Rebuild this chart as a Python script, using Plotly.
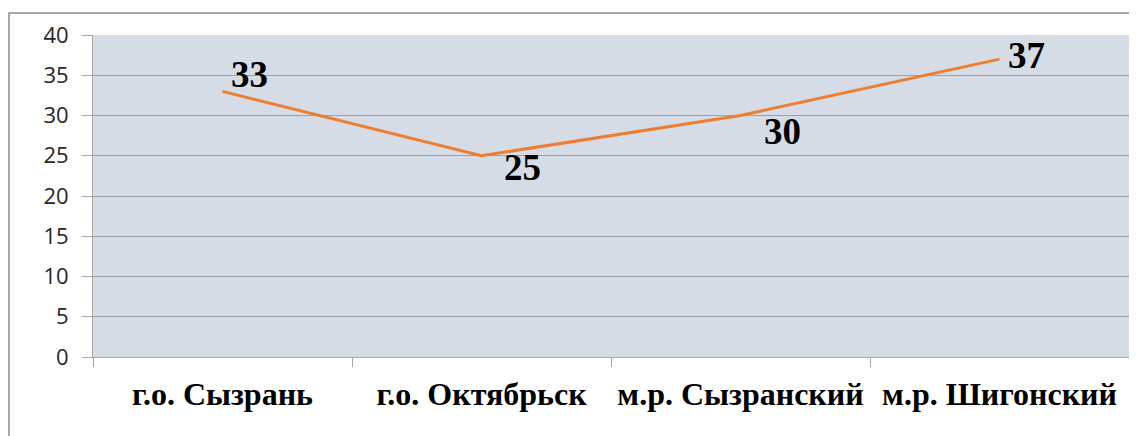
import plotly.graph_objects as go

categories = ["г.о. Сызрань", "г.о. Октябрьск", "м.р. Сызранский", "м.р. Шигонский"]
values = [33, 25, 30, 37]
y_ticks = [0, 5, 10, 15, 20, 25, 30, 35, 40]

# label offsets (pixels) from each point
label_dx = [6, 20, 21, 6]
label_dy = [17, -12, -16, 4]

fig = go.Figure()
fig.add_trace(go.Scatter(
    x=categories, y=values, mode="lines",
    line=dict(color="#ED7D31", width=3),
    showlegend=False, hoverinfo="skip",
))
for c, v, dx, dy in zip(categories, values, label_dx, label_dy):
    fig.add_annotation(x=c, y=v, text=str(v), showarrow=False,
                       xanchor="left", yanchor="middle", xshift=dx, yshift=dy,
                       font=dict(family="Liberation Serif", size=37, color="black", weight="bold"))

fig.update_layout(
    width=1137, height=436,
    margin=dict(l=85, r=16, t=27, b=87),
    paper_bgcolor="white", plot_bgcolor="#D6DCE5",
    showlegend=False,
)
fig.update_xaxes(
    type="category", range=[-0.5, 3.5], showgrid=False, automargin=False,
    tickson="boundaries", ticks="outside", ticklen=9, tickcolor="#A6A6A6",
    showline=True, linecolor="#A6A6A6", linewidth=1,
    tickfont=dict(family="Liberation Serif", size=32, color="black", weight="bold"),
    ticklabelstandoff=9,
)
fig.update_yaxes(
    range=[0, 40], tickvals=y_ticks, ticks="outside", ticklen=10, tickcolor="#A6A6A6",
    showgrid=True, gridcolor="#A0A0A0", gridwidth=1, automargin=False,
    showline=True, linecolor="#A6A6A6", linewidth=1, mirror=True,
    zeroline=False,
    tickfont=dict(family="Open Sans", size=22, color="#262626"),
    ticklabelstandoff=9,
)
# outer chart frame
fig.add_shape(type="rect", xref="paper", yref="paper",
              x0=(1 - 85) / 1036, x1=(1145 - 85) / 1036,
              y0=-(450 - 349) / 322, y1=1 + (27 - 5) / 322,
              line=dict(color="#8C8C8C", width=1.5), fillcolor="rgba(0,0,0,0)", layer="below")

fig.write_html("out.html")
